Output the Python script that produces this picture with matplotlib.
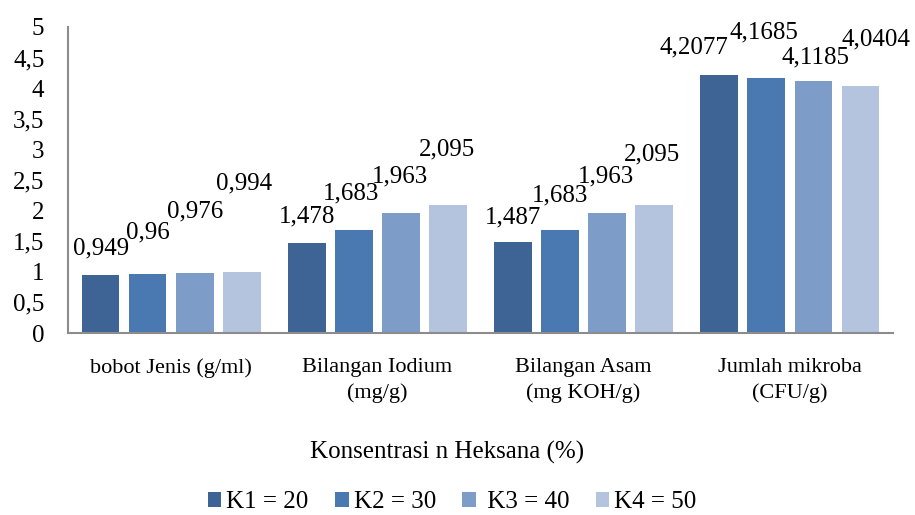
import numpy as np
import matplotlib
matplotlib.use("Agg")
import matplotlib.pyplot as plt

plt.rcParams['font.family'] = ['Liberation Serif', 'DejaVu Serif']

categories = ["bobot Jenis (g/ml)", "Bilangan Iodium\n(mg/g)",
              "Bilangan Asam\n(mg KOH/g)", "Jumlah mikroba\n(CFU/g)"]
series_names = ["K1 = 20", "K2 = 30", " K3 = 40", "K4 = 50"]
k1 = [0.949, 1.478, 1.487, 4.2077]
k2 = [0.96, 1.683, 1.683, 4.1685]
k3 = [0.976, 1.963, 1.963, 4.1185]
k4 = [0.994, 2.095, 2.095, 4.0404]
label_texts = [
    ["0,949", "1,478", "1,487", "4,2077"],
    ["0,96", "1,683", "1,683", "4,1685"],
    ["0,976", "1,963", "1,963", "4,1185"],
    ["0,994", "2,095", "2,095", "4,0404"],
]
yticks = [0, 0.5, 1, 1.5, 2, 2.5, 3, 3.5, 4, 4.5, 5]

colors = ["#3E6496", "#4A78B0", "#7E9CC8", "#B4C3DE"]
# label offsets (pixels) from the bar top, like Excel's shuffled labels
label_dx = [[0, 0, 0, -25], [0, -3, 0, -2], [0, -1, -1, 2], [2, -1, -2, 16]]
label_dy = [[26, 26, 25, 28], [42, 37, 35, 45], [62, 36, 36, 23], [89, 55, 50, 46]]

fig = plt.figure(figsize=(9.15, 5.15), dpi=100)
ax = fig.add_axes([68 / 915, 1 - 333 / 515, 825 / 915, 306 / 515])

x = np.arange(len(categories))
step = 0.228
width = 0.183
all_series = [k1, k2, k3, k4]
for i, vals in enumerate(all_series):
    pos = x + (i - 1.5) * step
    ax.bar(pos, vals, width, color=colors[i], label=series_names[i])
    for j, v in enumerate(vals):
        ax.annotate(label_texts[i][j], xy=(pos[j], v),
                    xytext=(label_dx[i][j], label_dy[i][j]),
                    textcoords='offset pixels', ha='center', va='center',
                    fontsize=18)

ax.set_xlim(-0.5, 3.5)
ax.set_ylim(0, 5)
ax.set_yticks(yticks)
ax.set_yticklabels([("%g" % t).replace(".", ",") for t in yticks], fontsize=18)
ax.set_xticks(x)
ax.set_xticklabels(categories, fontsize=16, linespacing=1.4)
ax.tick_params(axis='both', length=0)
ax.tick_params(axis='y', pad=17)
ax.tick_params(axis='x', pad=18)
for s in ['top', 'right']:
    ax.spines[s].set_visible(False)
for s in ['left', 'bottom']:
    ax.spines[s].set_color('#8C8C8C')
    ax.spines[s].set_linewidth(1.5)

fig.text(447 / 915, 1 - 452 / 515, "Konsentrasi n Heksana (%)", ha='center',
         va='center', fontsize=18)
fig.legend(loc='center', bbox_to_anchor=(452 / 915, 1 - 502 / 515), ncol=4,
           frameon=False, fontsize=18, handlelength=0.55, handleheight=0.55,
           handletextpad=0.2, columnspacing=1.05)

fig.savefig("out.png", dpi=100)
